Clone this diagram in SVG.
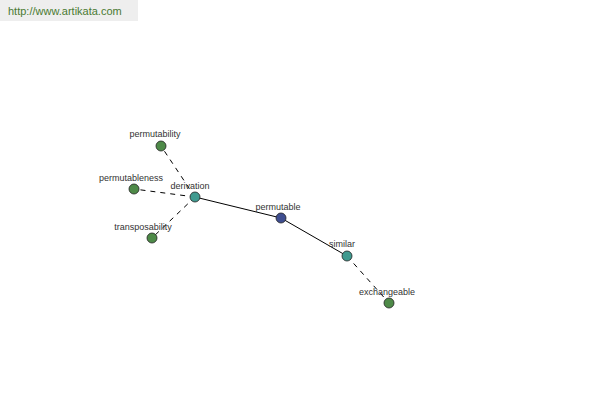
<svg xmlns="http://www.w3.org/2000/svg" width="600" height="400" viewBox="0 0 600 400">
<style>
.lbl{font-family:"Liberation Sans",Arial,sans-serif;font-size:9px;fill:#333;text-anchor:middle}
.n{stroke:#222;stroke-width:0.8}
.g{fill:#4e8a48}
.t{fill:#3f9a8f}
.b{fill:#3f4e90}
.e{stroke:#000;stroke-width:1;fill:none}
.d{stroke-dasharray:5,5}
</style>
<rect x="0" y="0" width="138" height="21" fill="#eeeeee"/>
<text x="8" y="15" style="font-family:'Liberation Sans',Arial,sans-serif;font-size:11px;fill:#4a7a32">http://www.artikata.com</text>
<g id="connectors">
<line class="e d" x1="195" y1="197" x2="161" y2="146"/>
<line class="e d" x1="195" y1="197" x2="134" y2="189"/>
<line class="e d" x1="195" y1="197" x2="152" y2="238"/>
<line class="e" x1="195" y1="197" x2="281" y2="218"/>
<line class="e" x1="281" y1="218" x2="347" y2="256"/>
<line class="e d" x1="347" y1="256" x2="389" y2="303"/>
</g>
<g id="permutability"><circle class="n g" cx="161" cy="146" r="5"/><text class="lbl" x="155" y="137">permutability</text></g>
<g id="permutableness"><circle class="n g" cx="134" cy="189" r="5"/><text class="lbl" x="131" y="181">permutableness</text></g>
<g id="transposability"><circle class="n g" cx="152" cy="238" r="5"/><text class="lbl" x="143" y="230">transposability</text></g>
<g id="derivation"><circle class="n t" cx="195" cy="197" r="5"/><text class="lbl" x="190" y="189">derivation</text></g>
<g id="permutable"><circle class="n b" cx="281" cy="218" r="5"/><text class="lbl" x="278" y="210">permutable</text></g>
<g id="similar"><circle class="n t" cx="347" cy="256" r="5"/><text class="lbl" x="342" y="247">similar</text></g>
<g id="exchangeable"><circle class="n g" cx="389" cy="303" r="5"/><text class="lbl" x="387" y="295">exchangeable</text></g>
</svg>
